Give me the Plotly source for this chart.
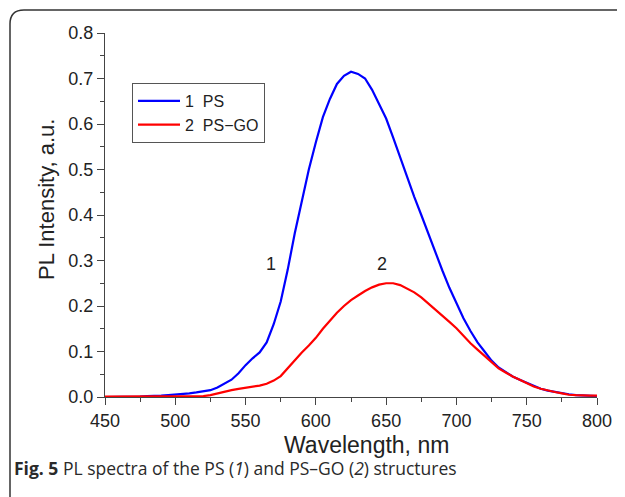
import plotly.graph_objects as go

wavelength = list(range(450, 805, 5))
ps = [0.000, 0.000, 0.000, 0.000, 0.001, 0.001, 0.002, 0.002, 0.003, 0.004,
      0.005, 0.006, 0.008, 0.010, 0.012, 0.015, 0.021, 0.029, 0.038, 0.052,
      0.070, 0.085, 0.098, 0.120, 0.160, 0.210, 0.280, 0.360, 0.430, 0.500,
      0.560, 0.615, 0.655, 0.688, 0.706, 0.715, 0.710, 0.700, 0.675, 0.645,
      0.612, 0.570, 0.525, 0.485, 0.440, 0.400, 0.358, 0.318, 0.278, 0.240,
      0.206, 0.173, 0.145, 0.120, 0.100, 0.080, 0.065, 0.054, 0.045, 0.038,
      0.031, 0.024, 0.018, 0.014, 0.011, 0.008, 0.006, 0.004, 0.003, 0.002,
      0.002]
ps_go = [0.001, 0.001, 0.001, 0.001, 0.001, 0.001, 0.001, 0.001, 0.001, 0.001,
         0.001, 0.001, 0.001, 0.001, 0.002, 0.004, 0.008, 0.012, 0.015, 0.018,
         0.020, 0.022, 0.025, 0.029, 0.036, 0.046, 0.063, 0.082, 0.098, 0.113,
         0.130, 0.150, 0.168, 0.185, 0.200, 0.213, 0.223, 0.233, 0.241, 0.247,
         0.250, 0.250, 0.246, 0.238, 0.230, 0.219, 0.206, 0.193, 0.180, 0.165,
         0.151, 0.134, 0.118, 0.104, 0.090, 0.075, 0.063, 0.054, 0.045, 0.038,
         0.030, 0.023, 0.018, 0.014, 0.011, 0.008, 0.005, 0.004, 0.003, 0.003,
         0.003]

series_names = ["1  PS", "2  PS\u2212GO"]
curve_labels = ["1", "2"]
label_pos = [(568, 0.292), (647, 0.292)]
x_title = "Wavelength, nm"
y_title = "PL Intensity, a.u."
caption = "<b>Fig. 5</b> PL spectra of the PS (<i>1</i>) and PS\u2013GO (<i>2</i>) structures"

# page geometry (body has an 8px default margin)
OFF = 8
W, H = 625, 497
L, R, T, B = 105, 597, 33, 397

def px(x):
    return (x - L) / (R - L)

def py(y):
    return (B - y) / (B - T)

fig = go.Figure()
fig.add_trace(go.Scatter(x=wavelength, y=ps, mode="lines", name=series_names[0],
                         line=dict(color="#0000ff", width=2.2)))
fig.add_trace(go.Scatter(x=wavelength, y=ps_go, mode="lines", name=series_names[1],
                         line=dict(color="#ff0000", width=2.2)))

FONT = "Liberation Sans, Arial"
axis_font = dict(family=FONT, size=18, color="#222")
fig.update_xaxes(range=[450, 800], dtick=50, showline=True, linecolor="#444", linewidth=1.2,
                 ticks="outside", ticklen=7, tickcolor="#444", showgrid=False, zeroline=False,
                 tickfont=axis_font,
                 minor=dict(ticks="outside", ticklen=4, dtick=25, tickcolor="#444"))
fig.update_yaxes(range=[0, 0.8], dtick=0.1, tickformat=".1f", showline=True, linecolor="#444",
                 linewidth=1.2, ticks="outside", ticklen=7, tickcolor="#444", showgrid=False,
                 zeroline=False, tickfont=axis_font,
                 minor=dict(ticks="outside", ticklen=4, dtick=0.05, tickcolor="#444"))

fig.add_annotation(xref="paper", yref="paper", x=px(366), y=py(445), text=x_title,
                   showarrow=False, xanchor="center", yanchor="middle",
                   font=dict(family=FONT, size=23, color="#222"))
fig.add_annotation(xref="paper", yref="paper", x=px(46), y=py(200), text=y_title,
                   showarrow=False, xanchor="center", yanchor="middle", textangle=-90,
                   font=dict(family=FONT, size=22, color="#222"))

for (lx, ly), t in zip(label_pos, curve_labels):
    fig.add_annotation(x=lx, y=ly, text=t, showarrow=False,
                       font=dict(family=FONT, size=18, color="#222"))

fig.add_annotation(xref="paper", yref="paper", x=px(12), y=py(468), xanchor="left", yanchor="middle",
                   text=caption, showarrow=False,
                   font=dict(family="Open Sans", size=17.5, color="#2a2a2a"))

# rounded frame
x0, y0, x1, y1 = px(10), py(10), px(640), py(510)
rx = 14 / (R - L)
ry = 14 / (B - T)
path = (f"M {x0},{y1} L {x0},{y0 - ry} Q {x0},{y0} {x0 + rx},{y0} L {x1},{y0}")
fig.add_shape(type="path", xref="paper", yref="paper", path=path,
              line=dict(color="#333", width=1.5))

fig.update_layout(
    width=W - OFF, height=H - OFF,
    margin=dict(l=L - OFF, r=W - R, t=T - OFF, b=H - B, autoexpand=False),
    paper_bgcolor="white", plot_bgcolor="white",
    showlegend=True,
    legend=dict(x=px(132), y=py(83), xanchor="left", yanchor="top",
                bordercolor="#555", borderwidth=1, bgcolor="white",
                font=dict(family=FONT, size=16, color="#222"),
                tracegroupgap=0, itemwidth=42),
)

fig.write_html("out.html")
